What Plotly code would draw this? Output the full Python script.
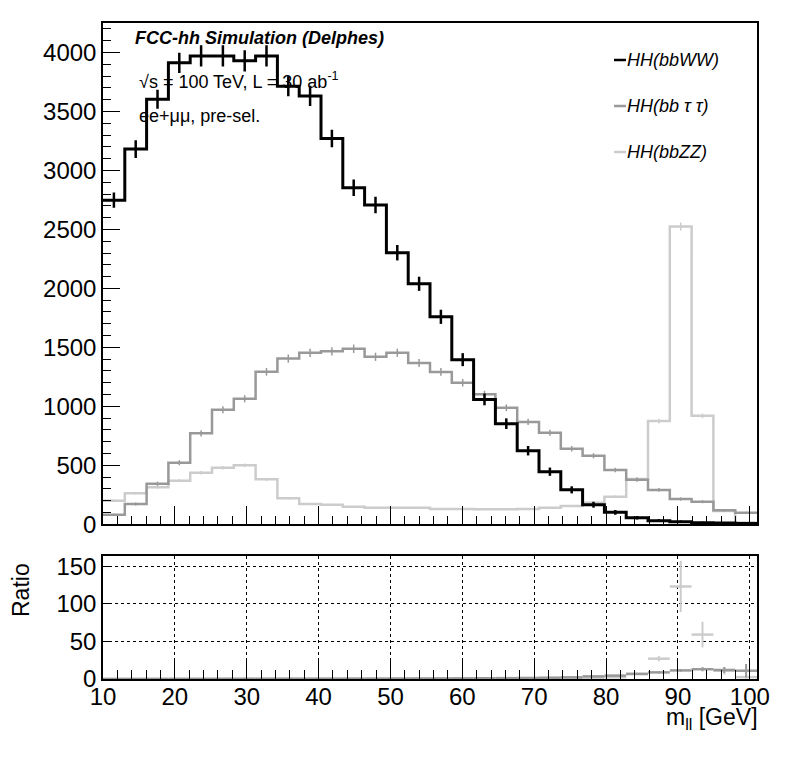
import numpy as np
import plotly.graph_objects as go

# binning: 30 bins between 10 and 101 GeV
lo, hi, nbins = 10.0, 101.0, 30
edges = np.linspace(lo, hi, nbins + 1)
centers = 0.5 * (edges[:-1] + edges[1:])
halfw = 0.5 * (edges[1] - edges[0])

# main panel, events per bin
bbww = [2748, 3181, 3604, 3912, 3971, 3971, 3929, 3971, 3714, 3632,
        3271, 2853, 2708, 2302, 2039, 1759, 1396, 1059, 853, 624,
        446, 292, 166, 102, 56, 31, 22, 14, 10, 6]
bbww_err = [65, 75, 80, 85, 90, 90, 90, 90, 85, 85,
            75, 70, 70, 65, 60, 60, 55, 50, 45, 40,
            35, 30, 25, 20, 15, 12, 10, 8, 6, 5]
bbtt = [81, 172, 344, 522, 771, 971, 1064, 1293, 1405, 1454,
        1467, 1488, 1420, 1454, 1368, 1292, 1200, 1102, 988, 868,
        776, 640, 581, 460, 378, 291, 214, 192, 119, 98]
bbtt_err = [9, 13, 18, 22, 26, 29, 30, 33, 35, 35,
            35, 36, 35, 35, 34, 33, 32, 30, 29, 27,
            26, 23, 22, 19, 18, 16, 14, 13, 10, 9]
bbzz = [200, 263, 314, 370, 437, 480, 500, 381, 220, 172,
        166, 149, 141, 141, 140, 130, 130, 128, 128, 130,
        141, 155, 183, 234, 384, 875, 2525, 920, 112, 15]
bbzz_err = [10, 11, 12, 13, 14, 15, 15, 13, 10, 9,
            9, 8, 8, 8, 8, 8, 8, 8, 8, 8,
            8, 9, 9, 10, 13, 20, 34, 20, 7, 3]

# ratio panel (relative to HH(bbWW))
ratio_tt = [0.03, 0.05, 0.1, 0.13, 0.19, 0.24, 0.27, 0.33, 0.38, 0.4,
            0.45, 0.52, 0.52, 0.63, 0.67, 0.73, 0.86, 1.04, 1.16, 1.39,
            1.74, 2.2, 3.5, 4.5, 6.7, 8.8, 11.4, 13, 12, 11]
ratio_tt_err = [0.01, 0.01, 0.01, 0.01, 0.01, 0.01, 0.01, 0.01, 0.01, 0.01,
                0.01, 0.01, 0.01, 0.02, 0.02, 0.02, 0.03, 0.03, 0.04, 0.05,
                0.07, 0.1, 0.2, 0.3, 0.6, 1.2, 1.8, 2.8, 4, 9]
ratio_zz = [0.07, 0.08, 0.09, 0.09, 0.11, 0.12, 0.13, 0.1, 0.06, 0.05,
            0.05, 0.05, 0.05, 0.06, 0.07, 0.07, 0.09, 0.12, 0.15, 0.21,
            0.32, 0.53, 1.1, 2.3, 6.9, 27, 123, 59, 11, 2.5]
ratio_zz_err = [0.01, 0.01, 0.01, 0.01, 0.01, 0.01, 0.01, 0.01, 0.01, 0.01,
                0.01, 0.01, 0.01, 0.01, 0.01, 0.01, 0.01, 0.01, 0.02, 0.03,
                0.04, 0.08, 0.2, 0.4, 1.5, 3.5, 34, 17, 5, 2]

BLACK, GRAY, LGRAY = "#000000", "#999999", "#cccccc"
FONT = "Liberation Sans"

# page is 796x772, the browser body adds an 8px margin
W, H = 780, 756
L, R, T, B = 95, 31, 15, 85
PX0, PX1, PY0, PY1 = 103, 757, 23, 679   # plot area in page pixels


def px2x(px):
    return (px - PX0) / (PX1 - PX0)


def py2y(py):
    return (PY1 - py) / (PY1 - PY0)


fig = go.Figure()

main = [(bbzz, bbzz_err, LGRAY, 2.5, 1.5),
        (bbtt, bbtt_err, GRAY, 2.5, 1.5),
        (bbww, bbww_err, BLACK, 3, 2.5)]
for vals, errs, col, lw, ew in main:
    fig.add_trace(go.Scatter(
        x=list(edges), y=list(vals) + [vals[-1]], mode="lines",
        line=dict(color=col, width=lw, shape="hv"),
        xaxis="x", yaxis="y", showlegend=False, hoverinfo="skip"))
    fig.add_trace(go.Scatter(
        x=centers, y=vals, mode="markers", marker=dict(size=1, color=col),
        error_y=dict(type="data", array=errs, width=0, thickness=ew, color=col),
        xaxis="x", yaxis="y", showlegend=False))

for vals, errs, col in [(ratio_zz, ratio_zz_err, LGRAY),
                        (ratio_tt, ratio_tt_err, GRAY)]:
    fig.add_trace(go.Scatter(
        x=centers, y=vals, mode="markers", marker=dict(size=1, color=col),
        error_x=dict(type="constant", value=halfw, width=0, thickness=2.5, color=col),
        error_y=dict(type="data", array=errs, width=0, thickness=2, color=col),
        xaxis="x2", yaxis="y2", showlegend=False))

axis_common = dict(showline=True, linecolor="black", linewidth=1.5, mirror=True,
                   ticks="inside", tickcolor="black",
                   tickfont=dict(family=FONT, size=24, color="black"),
                   zeroline=False)

main_bottom = py2y(524.3)
ratio_top = py2y(556)

fig.update_layout(
    width=W, height=H,
    margin=dict(l=L, r=R, t=T, b=B),
    paper_bgcolor="white", plot_bgcolor="white",
    font=dict(family=FONT, color="black"),
    xaxis=dict(axis_common, domain=[0, 1], range=[lo, hi], anchor="y",
               tick0=10, dtick=10, ticklen=19, showticklabels=False,
               showgrid=False,
               minor=dict(ticks="inside", dtick=2, ticklen=9, tickcolor="black")),
    yaxis=dict(axis_common, domain=[main_bottom, 1], range=[0, 4250], anchor="x",
               tick0=0, dtick=500, ticklen=17, showgrid=False,
               minor=dict(ticks="inside", dtick=100, ticklen=8, tickcolor="black")),
    xaxis2=dict(axis_common, domain=[0, 1], range=[lo, hi], anchor="y2",
                tick0=10, dtick=10, ticklen=19, ticklabelstandoff=-5,
                showgrid=True, gridcolor="black", griddash="dot", gridwidth=1,
                minor=dict(ticks="inside", dtick=2, ticklen=9, tickcolor="black")),
    yaxis2=dict(axis_common, domain=[0, ratio_top], range=[0, 163.5], anchor="x2",
                tick0=0, dtick=50, ticklen=8,
                showgrid=True, gridcolor="black", griddash="dot", gridwidth=1),
)

texts = [
    ("<b><i>FCC-hh Simulation (Delphes)</i></b>", 133, 38),
    ("√s = 100 TeV, L = 30 ab<sup>-1</sup>", 137, 80),
    ("ee+μμ, pre-sel.", 137, 116),
]
for txt, px, py in texts:
    fig.add_annotation(text=txt, x=px2x(px), y=py2y(py), xref="paper", yref="paper",
                       xanchor="left", yanchor="middle", showarrow=False,
                       font=dict(family=FONT, size=18, color="black"))

legend = [("HH(bbWW)", BLACK, 60), ("HH(bb τ τ)", GRAY, 106), ("HH(bbZZ)", LGRAY, 152)]
for name, col, py in legend:
    fig.add_shape(type="line", xref="paper", yref="paper",
                  x0=px2x(614), x1=px2x(626), y0=py2y(py), y1=py2y(py),
                  line=dict(color=col, width=2.5))
    fig.add_annotation(text="<i>" + name + "</i>", x=px2x(625), y=py2y(py),
                       xref="paper", yref="paper", xanchor="left", yanchor="middle",
                       showarrow=False, font=dict(family=FONT, size=18, color="black"))

fig.add_annotation(text="m<sub>ll</sub> [GeV]", x=px2x(760), y=py2y(718),
                   xref="paper", yref="paper", xanchor="right", yanchor="middle",
                   showarrow=False, font=dict(family=FONT, size=23, color="black"))
fig.add_annotation(text="Ratio", x=px2x(21), y=py2y(590), textangle=-90,
                   xref="paper", yref="paper", xanchor="center", yanchor="middle",
                   showarrow=False, font=dict(family=FONT, size=23, color="black"))

fig.write_html("out.html")
